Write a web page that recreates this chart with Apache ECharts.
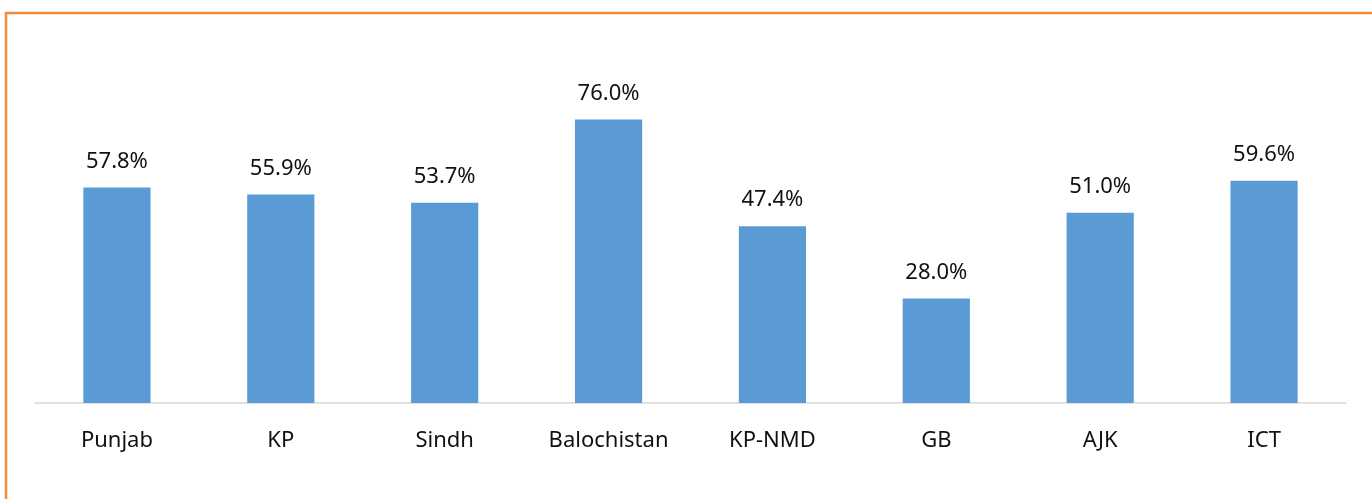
<!DOCTYPE html>
<html>
<head>
<meta charset="utf-8">
<script src="https://cdn.jsdelivr.net/npm/echarts@6/dist/echarts.min.js"></script>
<style>
html,body{margin:0;padding:0;background:#fff;}
#chart{width:1372px;height:499px;}
</style>
</head>
<body>
<div id="chart"></div>
<script>
const categories = ['Punjab', 'KP', 'Sindh', 'Balochistan', 'KP-NMD', 'GB', 'AJK', 'ICT'];
const values = [57.8, 55.9, 53.7, 76.0, 47.4, 28.0, 51.0, 59.6];

const chart = echarts.init(document.getElementById('chart'), null, {renderer: 'canvas'});
chart.setOption({
  animation: false,
  backgroundColor: '#ffffff',
  graphic: [{
    type: 'rect',
    shape: {x: 6, y: 13, width: 2000, height: 2000},
    style: {fill: 'none', stroke: '#F68B3C', lineWidth: 2.5},
    z: 10
  }],
  grid: {left: 35, right: 26, top: 30, bottom: 96, containLabel: false},
  xAxis: {
    type: 'category',
    data: categories,
    axisLine: {show: true, lineStyle: {color: '#D9D9D9', width: 1.5}},
    axisTick: {show: false},
    axisLabel: {color: '#111111', fontSize: 22, fontFamily: 'Noto Sans', margin: 27}
  },
  yAxis: {
    type: 'value',
    min: 0,
    max: 100,
    show: false,
    splitLine: {show: false}
  },
  series: [{
    type: 'bar',
    data: values,
    barWidth: '41%',
    itemStyle: {color: '#5B9BD5'},
    label: {
      show: true,
      position: 'top',
      distance: 15,
      color: '#111111',
      fontSize: 22,
      fontFamily: 'Noto Sans',
      formatter: p => p.value.toFixed(1) + '%'
    }
  }]
});
</script>
</body>
</html>
